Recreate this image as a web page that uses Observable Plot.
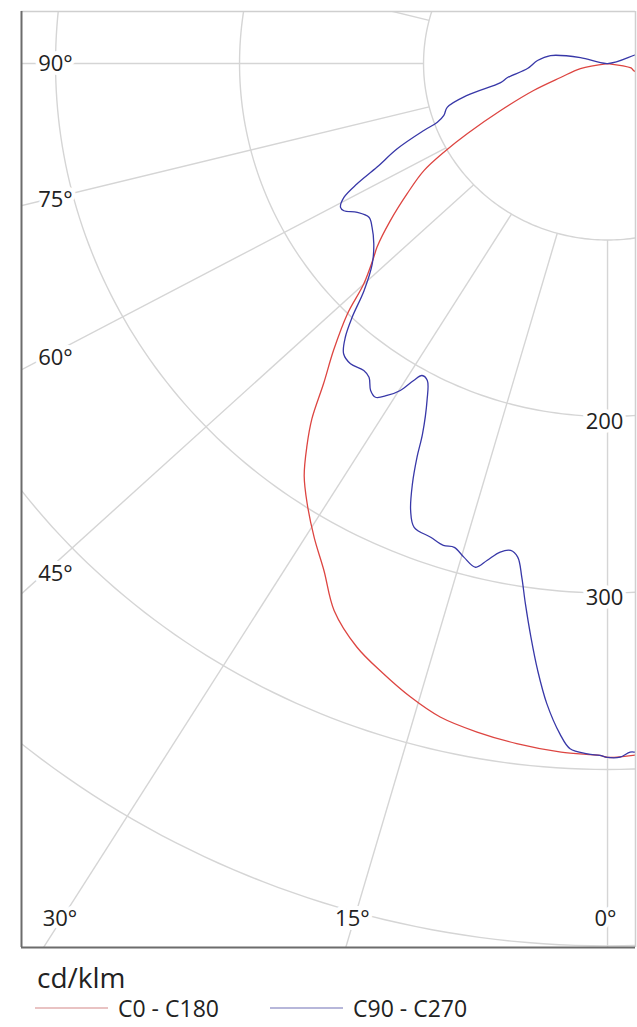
<!DOCTYPE html>
<html>
<head>
<meta charset="utf-8">
<script src="https://cdn.jsdelivr.net/npm/d3@7"></script>
<script src="https://cdn.jsdelivr.net/npm/@observablehq/plot@0.6"></script>
<style>
  html, body { margin: 0; padding: 0; background: #ffffff; }
  body { font-family: "Open Sans", sans-serif; width: 637px; }
  #chart svg, #legend svg { display: block; }
</style>
</head>
<body>
<div id="chart"></div>
<div id="legend"></div>
<script>
// ---------------- data (cd/klm, gamma in degrees; negative gamma = right half) ----------------
const ringValues = [100, 200, 300, 400, 500];
const ringLabelValues = [200, 300];
const spokeAngles = d3.range(0, 360, 15);
const angleLabelValues = [0, 15, 30, 45, 60, 75, 90];
const seriesNames = ["C0 - C180", "C90 - C270"];
const seriesColors = ["#dd4541", "#3838a8"];
const unitLabel = "cd/klm";

const c0Gamma = [-6, -2.4, 0, 0.6, 3.7, 7.3, 10.6, 13.8, 16.6, 19.4, 22.4, 25.6, 28.2, 30.7, 33.2, 35.2, 37.0, 38.6, 40.4, 42.5, 44.9, 46.7, 49.2, 50.3, 53.0, 55.9, 58.7, 60.7, 62.5, 65.4, 69.2, 72.8, 79.1, 90, -90, -79, -74, -69];
const c0Intensity = [389, 392, 393.2, 392.1, 391.0, 388.5, 385.4, 381.3, 374.6, 366.6, 357.6, 343.8, 326.1, 312.3, 298.1, 286.0, 271.5, 257.5, 238.1, 220.4, 200.3, 182.0, 167.8, 162.8, 147.7, 131.5, 116.8, 100.9, 85.8, 63.9, 43.0, 26.7, 15.0, 0, 0, 13, 15, 43];

const c90Gamma = [-5, -2.4, -1.8, -1.0, 0, 0.6, 1.6, 3.0, 3.9, 5.2, 6.3, 7.3, 8.3, 9.1, 9.9, 10.8, 11.9, 13.1, 14.1, 15.6, 16.9, 18.1, 19.7, 21.8, 22.9, 24.0, 24.9, 25.6, 27.2, 28.6, 29.7, 30.4, 31.3, 32.5, 33.7, 34.8, 36.1, 37.3, 39.4, 41.1, 42.6, 44.0, 45.8, 48.4, 51.2, 54.1, 56.1, 58.2, 59.8, 60.7, 62.1, 63.4, 64.9, 67.1, 69.2, 70.2, 71.7, 74.1, 76.7, 79.5, 81.7, 86.3, 92.6, 98.3, 103, 180, -108, -112];
const c90Intensity = [388, 390.5, 390.4, 393.1, 393.2, 392.1, 391.3, 388.8, 380.7, 364.2, 346.0, 327.7, 309.3, 294.7, 283.9, 280.9, 282.9, 289.1, 294.3, 290.4, 286.5, 287.2, 285.1, 283.0, 275.0, 260.7, 245.9, 232.7, 214.6, 204.6, 203.5, 208.2, 216.8, 223.0, 227.3, 225.6, 220.0, 218.6, 220.1, 218.2, 210.5, 199.8, 184.6, 171.0, 163.0, 158.0, 156.2, 160.0, 165.8, 166.4, 162.1, 152.2, 138.3, 124.1, 106.8, 98.3, 93.7, 90.6, 78.4, 59.1, 54.9, 43.6, 38.1, 31.3, 15.1, 0, 14.8, 28];

// visible window of the diagram, in cd/klm units (centre of the polar grid = 0,0)
const xDomain = [-318.5, 15.2];
const yDomain = [-500.9, 29.5];

// ---------------- geometry helpers ----------------
const W = 637, H = 950;
const mL = 21, mR = 2, mT = 11, mB = 3;
const rad = Math.PI / 180;
const spokeStretch = 1.06;
const pxX = (W - mL - mR) / (xDomain[1] - xDomain[0]);
const pxY = (H - mT - mB) / (yDomain[1] - yDomain[0]);
const toXY = (g, i) => ({x: -i * Math.sin(g * rad), y: -i * Math.cos(g * rad)});

const curves = [
  ...c0Gamma.map((g, k) => ({series: seriesNames[0], ...toXY(g, c0Intensity[k])})),
  ...c90Gamma.map((g, k) => ({series: seriesNames[1], ...toXY(g, c90Intensity[k])}))
];

const rings = ringValues.flatMap(r => d3.range(0, 361, 1).map(a => ({r, ...toXY(a, r)})));

const spokeDir = a => {
  const dx = -Math.sin(a * rad) * spokeStretch, dy = -Math.cos(a * rad);
  const n = Math.hypot(dx, dy);
  return [dx / n, dy / n];
};
const spokes = spokeAngles.map(a => {
  const [ux, uy] = spokeDir(a);
  return {a, x1: 100 * ux, y1: 100 * uy, x2: 3000 * ux, y2: 3000 * uy};
});

const xInset = xDomain[0] + 22 / pxX;
const yInset = yDomain[0] + 29 / pxY;
const angleLabels = angleLabelValues.map(a => {
  const [ux, uy] = spokeDir(a);
  const tx = ux < -1e-9 ? xInset / ux : Infinity;
  const ty = uy < -1e-9 ? yInset / uy : Infinity;
  const t = Math.min(tx, ty);
  return {a, side: tx < ty ? "left" : "bottom", x: t * ux, y: t * uy, text: a + "°"};
});

const txt = {fontSize: 22, fill: "#222", stroke: "white", strokeWidth: 8, textAnchor: "middle", fontFamily: "Open Sans"};

const plot = Plot.plot({
  width: W, height: H,
  marginLeft: mL, marginRight: mR, marginTop: mT, marginBottom: mB,
  style: {fontFamily: "Open Sans", background: "white"},
  x: {domain: xDomain, axis: null},
  y: {domain: yDomain, axis: null},
  marks: [
    Plot.line(rings, {x: "x", y: "y", z: "r", stroke: "#d5d5d5", strokeWidth: 1.4, clip: true}),
    Plot.link(spokes, {x1: "x1", y1: "y1", x2: "x2", y2: "y2", stroke: "#d5d5d5", strokeWidth: 1.4, clip: true}),
    Plot.line(curves, {x: "x", y: "y", z: "series", stroke: d => seriesColors[seriesNames.indexOf(d.series)], strokeWidth: 1.3, curve: "catmull-rom", clip: true}),
    Plot.text(ringLabelValues, {x: () => 0, y: d => -d, text: d => String(d), dy: 5, dx: -3, ...txt}),
    Plot.text(angleLabels.filter(d => d.side === "left"), {x: "x", y: "y", text: "text", dx: 12, ...txt}),
    Plot.text(angleLabels.filter(d => d.side === "bottom"), {x: "x", y: "y", text: "text", dx: -2, ...txt}),
    Plot.ruleY([yDomain[1]], {stroke: "#cfcfcf", strokeWidth: 1.5}),
    Plot.ruleX([xDomain[1]], {stroke: "#cfcfcf", strokeWidth: 1.5}),
    Plot.ruleX([xDomain[0]], {stroke: "#6c6c6c", strokeWidth: 2}),
    Plot.ruleY([yDomain[0]], {stroke: "#6c6c6c", strokeWidth: 2})
  ]
});
document.getElementById("chart").appendChild(plot);

// ---------------- legend ----------------
const legendColors = ["#e9c3c3", "#b7b7da"];
const lg = d3.select("#legend").append("svg").attr("width", W).attr("height", 1027 - H);
lg.append("text").attr("x", 37).attr("y", 38).attr("font-size", 28).attr("fill", "#222")
  .attr("font-family", "Open Sans").text(unitLabel);
const legendX = [35, 270];
seriesNames.forEach((name, i) => {
  lg.append("line").attr("x1", legendX[i]).attr("x2", legendX[i] + 73)
    .attr("y1", 58).attr("y2", 58).attr("stroke", legendColors[i]).attr("stroke-width", 2);
  lg.append("text").attr("x", legendX[i] + 83).attr("y", 67).attr("font-size", 23)
    .attr("fill", "#222").attr("font-family", "Open Sans").text(name);
});
</script>
</body>
</html>
